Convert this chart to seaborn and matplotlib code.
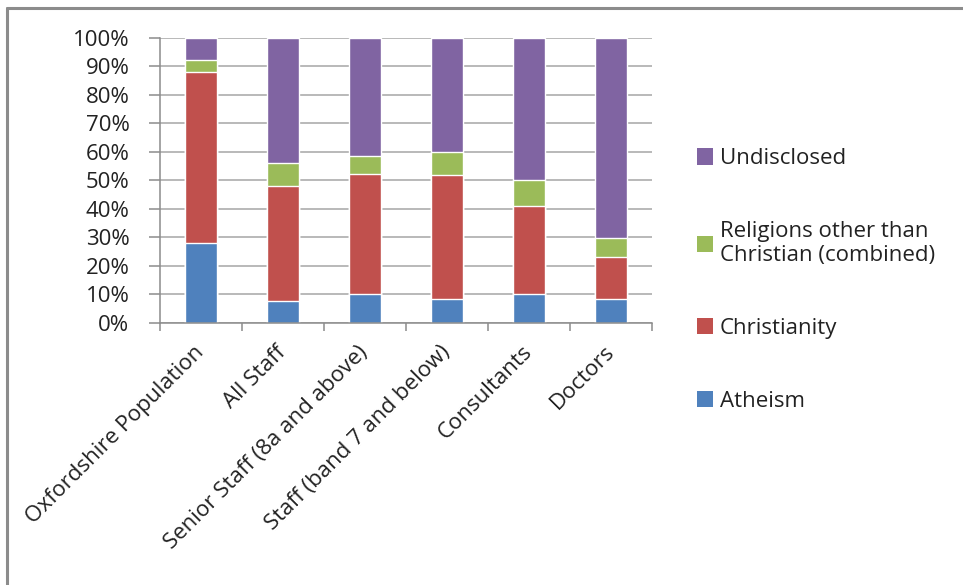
"""Stacked percentage bars: religion / belief by staff group."""

import matplotlib.pyplot as plt
import numpy as np
import pandas as pd
import seaborn as sns
from matplotlib.lines import Line2D
from matplotlib.patches import Patch
from matplotlib.ticker import FixedLocator, PercentFormatter

sns.set_theme(style="white")
plt.rcParams["font.family"] = ["Open Sans", "DejaVu Sans"]

groups = [
    "Oxfordshire Population",
    "All Staff",
    "Senior Staff (8a and above)",
    "Staff (band 7 and below)",
    "Consultants",
    "Doctors",
]
atheism = [28.1, 7.7, 10.1, 8.2, 10.1, 8.2]
christianity = [59.8, 40.2, 42.2, 43.6, 31.0, 14.9]
other_religions = [4.4, 8.0, 6.3, 8.2, 9.0, 6.7]
undisclosed = [7.7, 44.1, 41.4, 40.0, 49.9, 70.2]

series_names = [
    "Atheism",
    "Christianity",
    "Religions other than\nChristian (combined)",
    "Undisclosed",
]
colors = ["#4F81BD", "#C0504D", "#9BBB59", "#8064A2"]

values = np.array([atheism, christianity, other_religions, undisclosed])
cumulative = values.cumsum(axis=0)
stacked = pd.DataFrame(cumulative.T, columns=series_names)
stacked["Group"] = groups

fig = plt.figure(figsize=(9.63, 5.85), dpi=100)
ax = fig.add_axes([0.1661, 0.4484, 0.5109, 0.4872])

# draw tallest cumulative first so lower segments sit on top
for name, color in reversed(list(zip(series_names, colors))):
    sns.barplot(
        data=stacked, x="Group", y=name, color=color, width=0.4,
        saturation=1, ax=ax, zorder=2,
    )

ax.set_ylim(0, 100)
ax.set_xlim(-0.5, len(groups) - 0.5)
ax.set_yticks(np.arange(0, 101, 10))
ax.yaxis.set_major_formatter(PercentFormatter(decimals=0))
ax.set_xlabel("")
ax.set_ylabel("")
ax.grid(axis="y", color="#a6a6a6", linewidth=1.1, zorder=0)
ax.set_axisbelow(True)

for side in ["top", "right"]:
    ax.spines[side].set_visible(False)
for side in ["left", "bottom"]:
    ax.spines[side].set_color("#8c8c8c")
    ax.spines[side].set_linewidth(1.1)

ax.tick_params(axis="y", which="major", left=True, length=8, width=1.1,
               color="#8c8c8c", labelsize=16, labelcolor="#222222", pad=14)
ax.tick_params(axis="x", which="major", bottom=False, labelsize=16,
               labelcolor="#222222", pad=13)
ax.xaxis.set_minor_locator(FixedLocator(np.arange(-0.5, len(groups), 1.0)))
ax.tick_params(axis="x", which="minor", bottom=True, length=6, width=1.1,
               color="#8c8c8c")
plt.setp(ax.get_xticklabels(), rotation=45, ha="right", va="center",
         rotation_mode="anchor")

handles = [Patch(facecolor=c, edgecolor="none") for c in colors]
ax.legend(
    handles[::-1], series_names[::-1],
    loc="center left", bbox_to_anchor=(1.05, 0.15),
    frameon=False, fontsize=16, labelspacing=2.33,
    handlelength=0.75, handleheight=0.75, handletextpad=0.3,
    labelcolor="#222222",
)

# chart frame, cropped on the right and bottom as in the screenshot
fig.add_artist(Line2D([0.0068, 1.0], [0.9863, 0.9863], color="#8c8c8c",
                      linewidth=2.2, transform=fig.transFigure))
fig.add_artist(Line2D([0.0073, 0.0073], [0.0, 0.9863], color="#8c8c8c",
                      linewidth=2.2, transform=fig.transFigure))

fig.savefig("out.png", dpi=100)
